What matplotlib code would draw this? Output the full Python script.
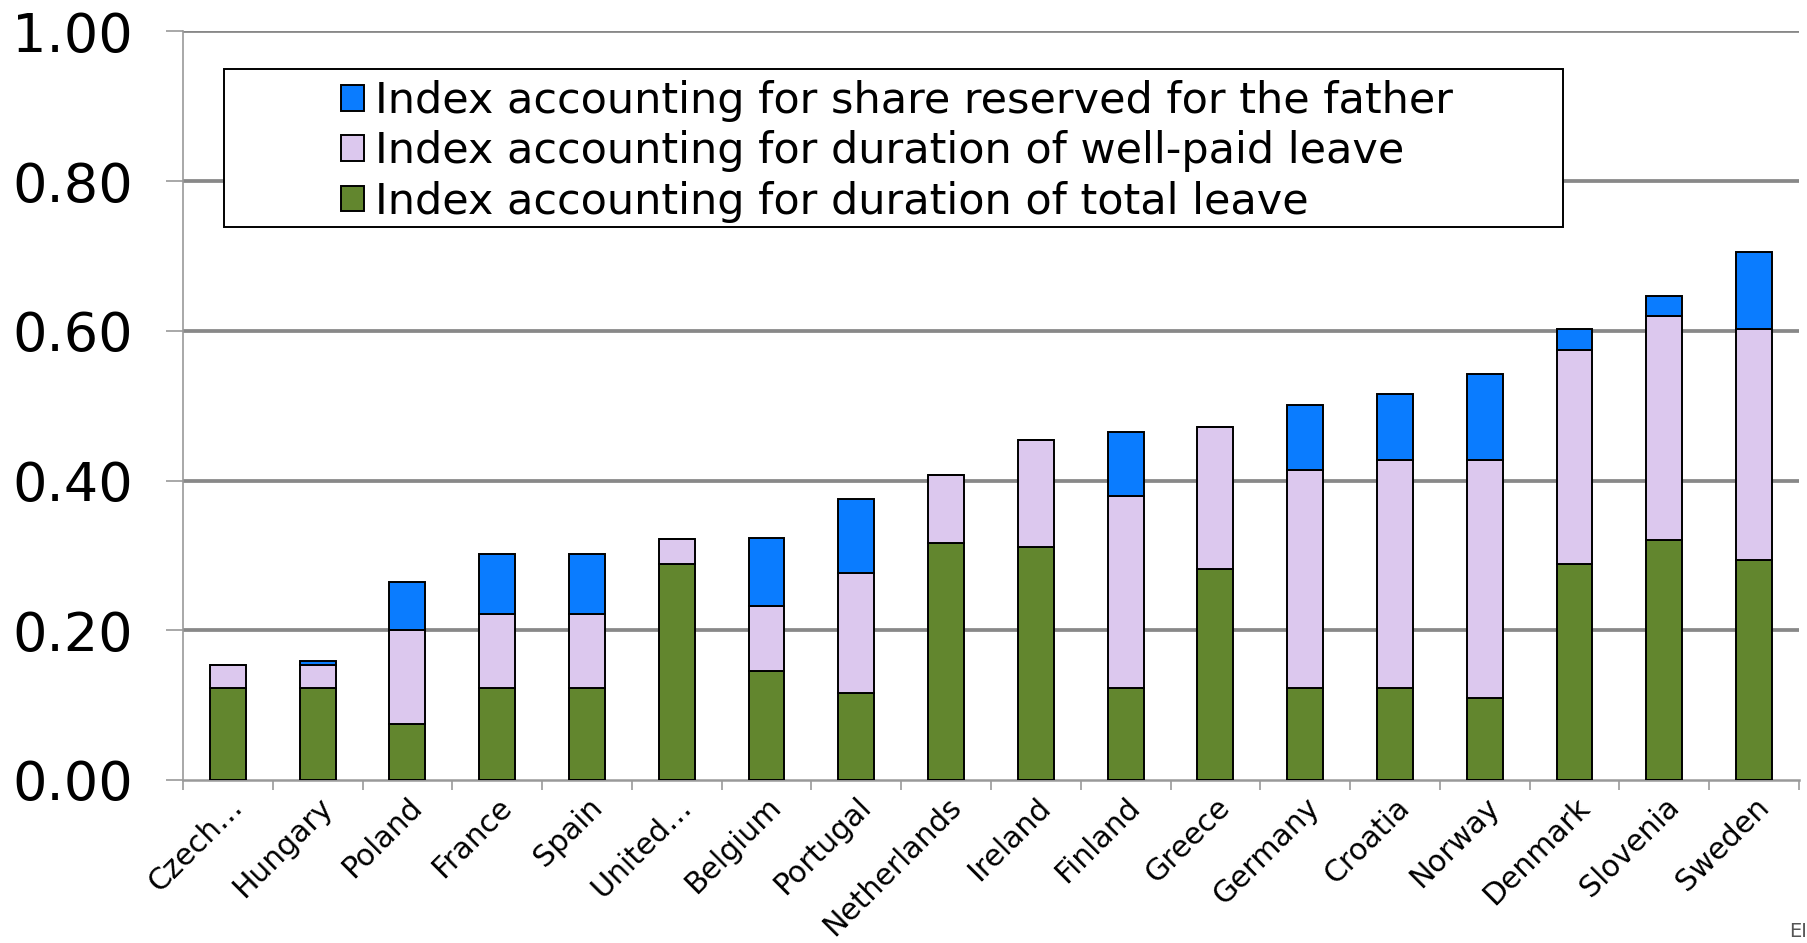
import numpy as np
import matplotlib
matplotlib.use("Agg")
import matplotlib.pyplot as plt
from matplotlib.patches import Rectangle

countries = ["Czech…", "Hungary", "Poland", "France", "Spain", "United…",
             "Belgium", "Portugal", "Netherlands", "Ireland", "Finland", "Greece",
             "Germany", "Croatia", "Norway", "Denmark", "Slovenia", "Sweden"]

# cumulative tops
total_leave = [0.123, 0.123, 0.075, 0.123, 0.123, 0.288, 0.145, 0.116, 0.317,
               0.311, 0.123, 0.282, 0.123, 0.123, 0.109, 0.288, 0.321, 0.294]
well_paid = [0.154, 0.153, 0.200, 0.222, 0.222, 0.322, 0.232, 0.276, 0.407,
             0.454, 0.379, 0.471, 0.414, 0.427, 0.427, 0.574, 0.620, 0.603]
father = [0.154, 0.159, 0.264, 0.302, 0.302, 0.322, 0.323, 0.376, 0.407,
          0.454, 0.465, 0.471, 0.501, 0.516, 0.542, 0.602, 0.647, 0.705]

labels = ["Index accounting for share reserved for the father",
          "Index accounting for duration of well-paid leave",
          "Index accounting for duration of total leave"]

c_green = "#62862e"
c_lilac = "#dcc8ee"
c_blue = "#0a7cff"

fig = plt.figure(figsize=(18.08, 9.43), dpi=100)
ax = fig.add_axes([0.1012, 0.1729, 0.8938, 0.7937])

x = np.arange(len(countries))
tl = np.array(total_leave)
wp = np.array(well_paid)
fa = np.array(father)

w = 0.4
kw = dict(width=w, edgecolor="black", linewidth=1.4, zorder=3)
b1 = ax.bar(x, tl, color=c_green, **kw)
b2 = ax.bar(x, wp - tl, bottom=tl, color=c_lilac, **kw)
b3 = ax.bar(x, fa - wp, bottom=wp, color=c_blue, **kw)

ax.set_xlim(-0.5, len(countries) - 0.5)
ax.set_ylim(0, 1.0)
ax.set_yticks([0, 0.2, 0.4, 0.6, 0.8, 1.0])
ax.set_yticklabels(["0.00", "0.20", "0.40", "0.60", "0.80", "1.00"])
ax.tick_params(axis="y", labelsize=39, length=12, width=1.2, color="#999999", pad=24)

for v in [0.2, 0.4, 0.6, 0.8, 1.0]:
    ax.axhline(v, color="#888888", linewidth=2.7, zorder=1)

ax.set_xticks(np.arange(len(countries) + 1) - 0.5, minor=False)
ax.set_xticklabels([])
ax.tick_params(axis="x", length=7, width=1.2, color="#999999")
ax.set_xticks(x, minor=True)
ax.set_xticklabels(countries, minor=True, rotation=45, ha="right", va="top",
                   rotation_mode="anchor", fontsize=21.5)
ax.tick_params(axis="x", which="minor", length=0, pad=9)

for side in ["top", "right"]:
    ax.spines[side].set_visible(False)
ax.spines["left"].set_color("#999999")
ax.spines["left"].set_linewidth(1.2)
ax.spines["bottom"].set_color("#999999")
ax.spines["bottom"].set_linewidth(1.8)

# legend box
fig.patches.append(Rectangle((224 / 1808, 1 - 227 / 943), (1563 - 224) / 1808,
                             (227 - 69) / 943, transform=fig.transFigure,
                             facecolor="white", edgecolor="black",
                             linewidth=1.4, zorder=5))
leg = fig.legend([b3[0], b2[0], b1[0]], labels, loc="upper left",
                 bbox_to_anchor=(324 / 1808, 1 - 63 / 943), frameon=False,
                 borderaxespad=0, fontsize=31, handlelength=0.54,
                 handleheight=0.54, handletextpad=0.25, labelspacing=0.19)
leg.set_zorder(6)

fig.text(0.9995, 0.002, "EI", color="#555555", fontsize=14, va="bottom", ha="right")

fig.savefig("out.png", dpi=100)
